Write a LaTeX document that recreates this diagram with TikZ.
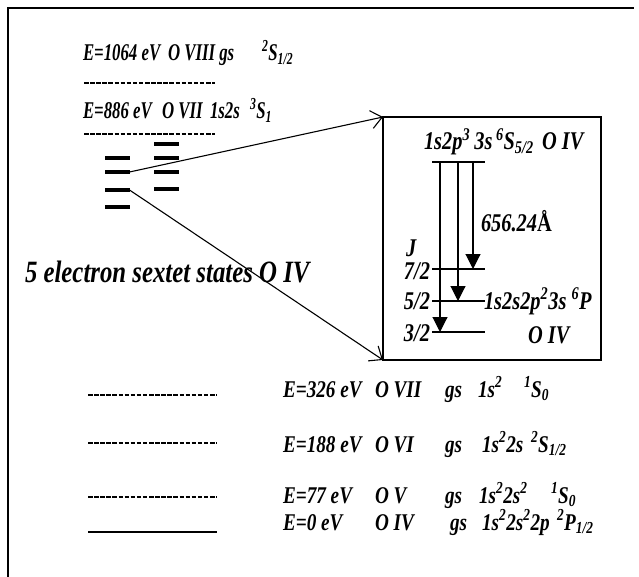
\documentclass[tikz,border=0pt]{standalone}
\usepackage{fontspec}
\setmainfont{Liberation Serif}[FakeStretch=0.8]
\newfontfamily\narrowserif{Liberation Serif}[FakeStretch=0.7]
\usetikzlibrary{arrows.meta}

\begin{document}
\begin{tikzpicture}[
  x=1pt,
  y=-1pt,
  every node/.style={inner sep=0pt, outer sep=0pt},
  label/.style={font=\bfseries\itshape\fontsize{24}{26}\selectfont, anchor=base west},
  toplabel/.style={font=\narrowserif\bfseries\itshape\fontsize{24}{26}\selectfont, anchor=base west},
  biglabel/.style={font=\bfseries\itshape\fontsize{31}{33}\selectfont, anchor=base west},
  boxlabel/.style={font=\bfseries\itshape\fontsize{25.5}{27}\selectfont, anchor=base west},
  bar/.style={fill=black, minimum width=25pt, minimum height=4.5pt},
  dashlevel/.style={line width=2.4pt, dash pattern=on 4.5pt off 1.6pt},
  level/.style={line width=1.4pt},
  zoomarrow/.style={line width=1.1pt, -{Straight Barb[length=11pt,width=18pt,line width=1.1pt]}},
  decay/.style={line width=1.1pt, -{Triangle[length=15pt,width=15pt]}}
]

  \path[use as bounding box] (0,0) rectangle (639,577);

  % Frame (only top and left edges visible).
  \draw[line width=1.3pt] (8,577) -- (8,8) -- (634,8);

  % Highly charged states above the sextet manifold.
  \node[toplabel] (e1064) at (83,61) {E=1064 eV};
  \node[toplabel] (ion1064) at (168,61) {O VIII gs};
  \node[toplabel] (term1064) at (262,61) {\textsuperscript{2}S\textsubscript{1/2}};
  \draw[dashlevel] (84,83) -- (215,83);
  \node[toplabel] (e886) at (83,119) {E=886 eV};
  \node[toplabel] (ion886) at (162,119) {O VII};
  \node[toplabel] (cfg886) at (210,119) {1s2s};
  \node[toplabel] (term886) at (250,119) {\textsuperscript{3}S\textsubscript{1}};
  \draw[dashlevel] (84,134) -- (215,134);

  % Sextet levels.
  \foreach \y [count=\i] in {158,172,190,207}
    \node[bar] (barL\i) at (117,\y) {};
  \foreach \y [count=\i] in {144,158,172,189}
    \node[bar] (barR\i) at (166,\y) {};

  \node[biglabel] (sextet) at (25,282) {5 electron sextet states O IV};

  % Zoomed view of the 1s2p^3 3s -> 1s2s2p^2 3s transitions.
  \node[draw, line width=1.3pt, minimum width=218pt, minimum height=243pt] (zoombox) at (492,238.5) {};
  \draw[zoomarrow] (barL2.east) -- (zoombox.north west);
  \draw[zoomarrow] (barL3.east) -- (zoombox.south west);

  \node[boxlabel] (ucfg) at (424,150) {1s2p\textsuperscript{3}\,3s};
  \node[boxlabel] (uterm) at (496,150) {\textsuperscript{6}S\textsubscript{5/2}};
  \node[boxlabel] (uion) at (542,150) {O IV};
  \coordinate (s0w) at (432,162);
  \coordinate (s0e) at (485,162);
  \draw[level] (s0w) -- (s0e);
  \foreach \name/\y in {j7/269, j5/301, j3/332} {
    \coordinate (\name w) at (432,\y);
    \coordinate (\name e) at (485,\y);
    \draw[level] (\name w) -- (\name e);
  }
  \foreach \x/\lev in {473/j7, 458/j5, 440/j3}
    \draw[decay] (\x,0 |- s0w) -- (\x,0 |- \lev w);

  \node[boxlabel] (jlab) at (406,256) {J};
  \node[boxlabel, anchor=base east] (j7lab) at (430,279) {7/2};
  \node[boxlabel, anchor=base east] (j5lab) at (430,309) {5/2};
  \node[boxlabel, anchor=base east] (j3lab) at (430,341) {3/2};
  \node[boxlabel] (lambda) at (481,232) {656.24\textup{Å}};
  \node[boxlabel] (lower) at (484,309) {1s2s2p\textsuperscript{2}3s \textsuperscript{6}P};
  \node[boxlabel] (lowerion) at (528,343) {O IV};

  % Ground states of the lower charge states.
  \foreach \y in {395,443,497}
    \draw[dashlevel, line width=2.1pt] (88,\y) -- (217,\y);
  \draw[level] (88,532) -- (217,532);

  \node[label] (e326) at (283,397) {E=326 eV};
  \node[label] (ion326) at (375,397) {O VII};
  \node[label] (gs326) at (445,397) {gs};
  \node[label] (cfg326) at (478,397) {1s\textsuperscript{2}};
  \node[label] (term326) at (524,397) {\textsuperscript{1}S\textsubscript{0}};

  \node[label] (e188) at (283,452) {E=188 eV};
  \node[label] (ion188) at (375,452) {O VI};
  \node[label] (gs188) at (445,452) {gs};
  \node[label] (cfg188) at (482,452) {1s\textsuperscript{2}2s};
  \node[label] (term188) at (531,452) {\textsuperscript{2}S\textsubscript{1/2}};

  \node[label] (e77) at (283,503) {E=77 eV};
  \node[label] (ion77) at (375,503) {O V};
  \node[label] (gs77) at (445,503) {gs};
  \node[label] (cfg77) at (479,503) {1s\textsuperscript{2}2s\textsuperscript{2}};
  \node[label] (term77) at (551,503) {\textsuperscript{1}S\textsubscript{0}};

  \node[label] (e0) at (283,530) {E=0 eV};
  \node[label] (ion0) at (375,530) {O IV};
  \node[label] (gs0) at (450,530) {gs};
  \node[label] (cfg0) at (482,530) {1s\textsuperscript{2}2s\textsuperscript{2}2p};
  \node[label] (term0) at (557,530) {\textsuperscript{2}P\textsubscript{1/2}};

\end{tikzpicture}
\end{document}
